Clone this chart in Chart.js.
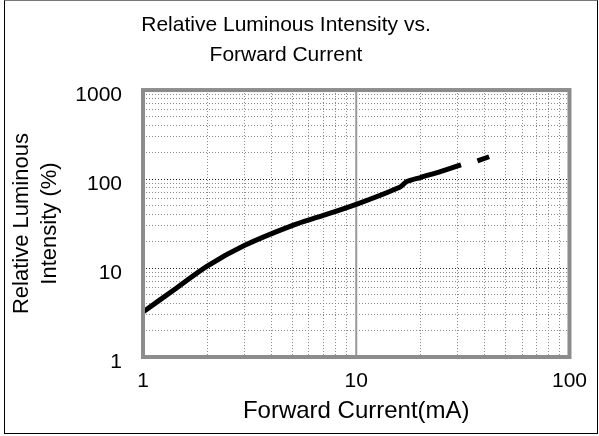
<!DOCTYPE html>
<html>
<head>
<meta charset="utf-8">
<script src="https://cdn.jsdelivr.net/npm/chart.js@4/dist/chart.umd.min.js"></script>
<style>
  html, body { margin: 0; padding: 0; background: #fff; }
  #wrap { position: relative; width: 599px; height: 436px; }
  #frame { position: absolute; left: 4px; top: 0; width: 592px; height: 432px;
           border: 1px solid #000; border-top-color: #777; pointer-events: none; }
</style>
</head>
<body>
<div id="wrap">
  <canvas id="chart" width="599" height="436"></canvas>
  <div id="frame"></div>
</div>
<script>
// ---- Data ----
const currentMA    = [1, 1.4, 2, 3, 5, 7, 10, 16, 17.2, 20, 25, 31];
const intensity    = [3.2, 5.7, 10.5, 18, 30, 39, 52, 81, 93, 104, 122, 144];
const extCurrent   = [37, 42];
const extIntensity = [160, 178];

const xTicks  = [1,2,3,4,5,6,7,8,9,10,20,30,40,50,60,70,80,90,100];
const yTicks  = [1,2,3,4,5,6,7,8,9,10,20,30,40,50,60,70,80,90,100,200,300,400,500,600,700,800,900,1000];
const xLabels = [1, 10, 100];
const yLabels = [1, 10, 100, 1000];

const FONT = "'Liberation Sans', Arial, sans-serif";

// ---- Plot border + solid decade line ----
const plotBorder = {
  id: 'plotBorder',
  beforeDatasetsDraw(chart) {
    const { ctx, chartArea: a, scales } = chart;
    const x10 = scales.x.getPixelForValue(10);
    ctx.save();
    ctx.strokeStyle = '#999';
    ctx.lineWidth = 2;
    ctx.beginPath();
    ctx.moveTo(x10, a.top);
    ctx.lineTo(x10, a.bottom);
    ctx.stroke();
    ctx.restore();
  },
  afterDraw(chart) {
    const { ctx, chartArea: a } = chart;
    ctx.save();
    ctx.strokeStyle = '#8c8c8c';
    ctx.lineWidth = 4;
    ctx.strokeRect(a.left, a.top, a.right - a.left, a.bottom - a.top);
    ctx.restore();
  }
};

const gridColor = (labels) => (c) =>
  (c.tick && labels.includes(c.tick.value)) ? '#222' : '#888';

new Chart(document.getElementById('chart'), {
  type: 'line',
  data: {
    datasets: [
      {
        data: currentMA.map((x, i) => ({ x, y: intensity[i] })),
        borderColor: '#000', borderWidth: 5, pointRadius: 0,
        tension: 0.3, fill: false
      },
      {
        data: extCurrent.map((x, i) => ({ x, y: extIntensity[i] })),
        borderColor: '#000', borderWidth: 5, pointRadius: 0, fill: false
      }
    ]
  },
  options: {
    responsive: false,
    animation: false,
    layout: { padding: { left: 0, right: 27, top: 0, bottom: 0 } },
    plugins: {
      legend: { display: false },
      tooltip: { enabled: false },
      title: {
        display: true,
        text: ['Relative Luminous Intensity vs.', 'Forward Current'],
        color: '#000',
        font: { family: FONT, size: 21, weight: 'normal', lineHeight: 1.43 },
        padding: { top: 10, bottom: 20 }
      }
    },
    scales: {
      x: {
        type: 'logarithmic', min: 1, max: 100,
        afterBuildTicks: (s) => { s.ticks = xTicks.map(v => ({ value: v })); },
        afterFit: (s) => { s.height = 79; },
        ticks: {
          autoSkip: false, maxRotation: 0, padding: 12, color: '#000',
          font: { family: FONT, size: 21 },
          callback: (v) => xLabels.includes(v) ? String(v) : ''
        },
        grid: { color: gridColor(xLabels), lineWidth: 1, drawTicks: false },
        border: { display: false, dash: [1, 2] },
        title: {
          display: true, text: 'Forward Current(mA)', color: '#000',
          font: { family: FONT, size: 24, lineHeight: 1.0 },
          padding: { top: 0, bottom: 13 }
        }
      },
      y: {
        type: 'logarithmic', min: 1, max: 1000,
        afterBuildTicks: (s) => { s.ticks = yTicks.map(v => ({ value: v })); },
        afterFit: (s) => { s.width = 143; },
        ticks: {
          autoSkip: false, padding: 21, color: '#000', labelOffset: 5,
          font: { family: FONT, size: 21 },
          callback: (v) => yLabels.includes(v) ? String(v) : ''
        },
        grid: { color: gridColor(yLabels), lineWidth: 1, drawTicks: false },
        border: { display: false, dash: [1, 2] },
        title: {
          display: true, text: ['Relative Luminous', 'Intensity (%)'], color: '#000',
          font: { family: FONT, size: 22, lineHeight: 1.27 },
          padding: { top: 8, bottom: 0 }
        }
      }
    }
  },
  plugins: [plotBorder]
});
</script>
</body>
</html>
